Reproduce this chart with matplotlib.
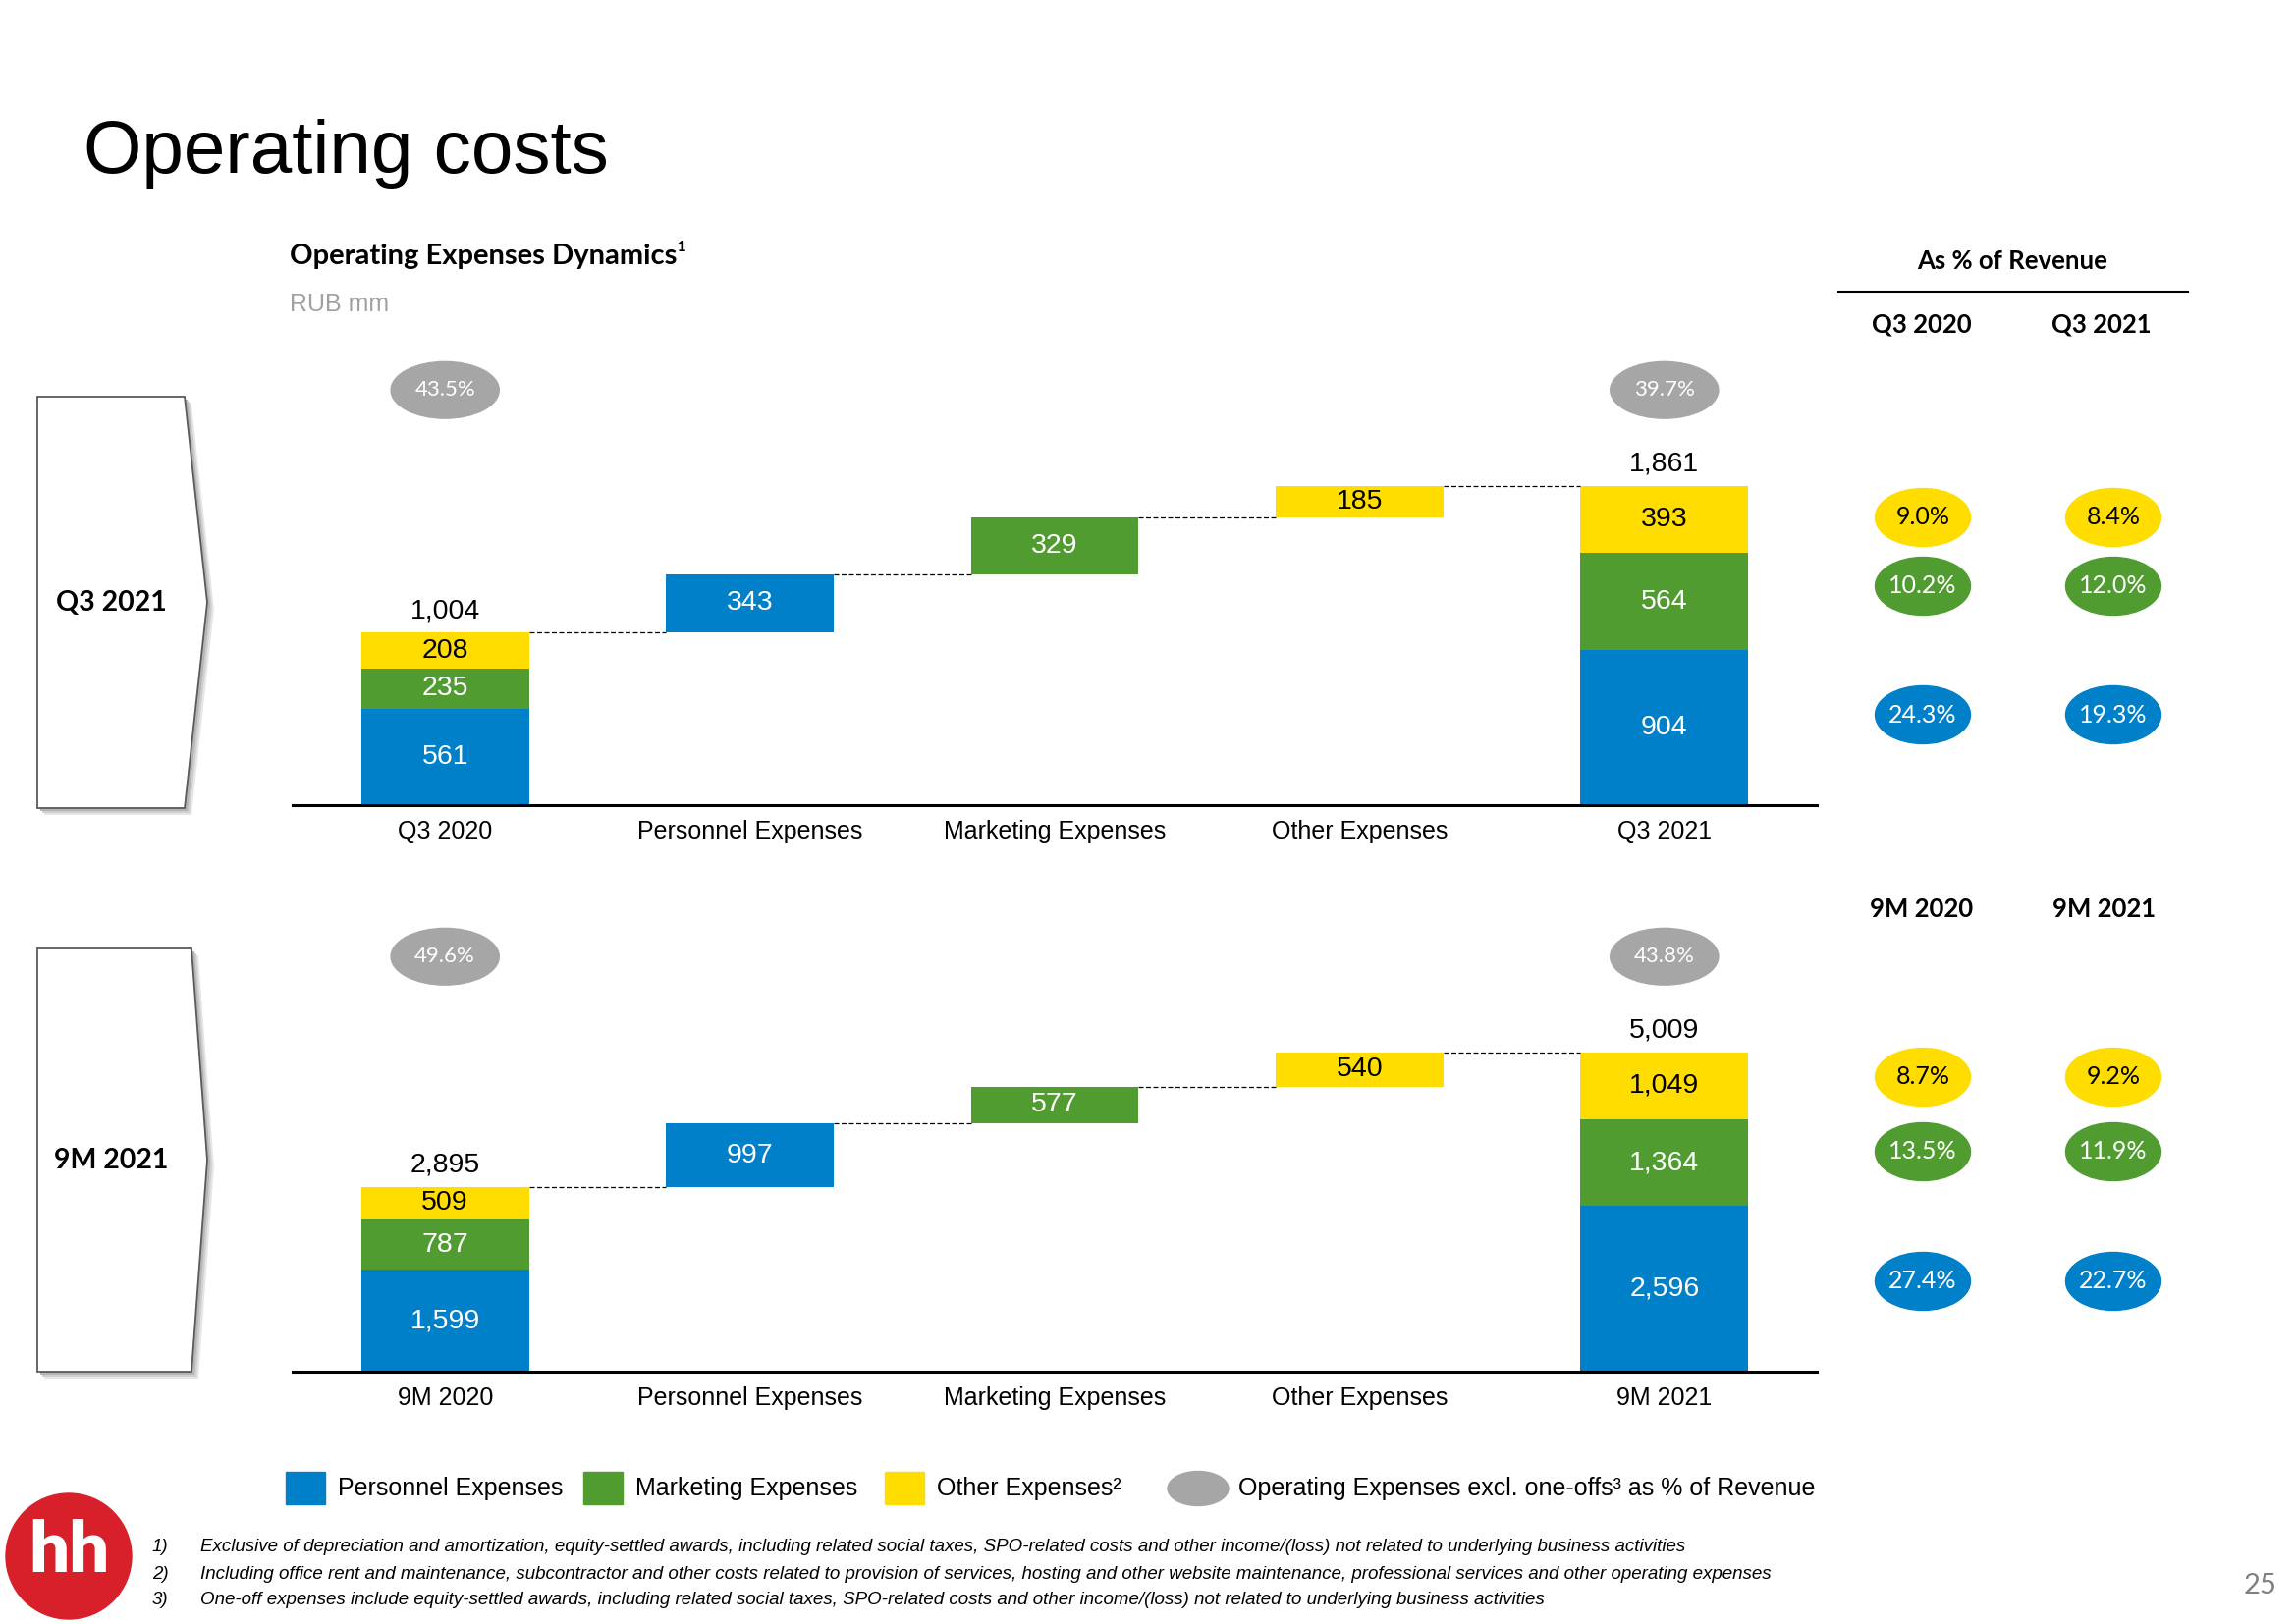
import matplotlib
matplotlib.use('Agg')
import matplotlib.pyplot as plt
from matplotlib.patches import Ellipse, Polygon, Circle, Rectangle
from matplotlib.transforms import blended_transform_factory
from matplotlib import font_manager

## Data
categories_q3 = ['Q3 2020', 'Personnel Expenses', 'Marketing Expenses', 'Other Expenses', 'Q3 2021']
categories_9m = ['9M 2020', 'Personnel Expenses', 'Marketing Expenses', 'Other Expenses', '9M 2021']

# stacks are (personnel, marketing, other), RUB mm
q3_2020 = [561, 235, 208]
q3_change = [343, 329, 185]
q3_2021 = [904, 564, 393]
m9_2020 = [1599, 787, 509]
m9_change = [997, 577, 540]
m9_2021 = [2596, 1364, 1049]

# opex excl. one-offs as % of revenue (start, end)
q3_opex_pct = [43.5, 39.7]
m9_opex_pct = [49.6, 43.8]

# as % of revenue (personnel, marketing, other)
q3_pct_2020 = [24.3, 10.2, 9.0]
q3_pct_2021 = [19.3, 12.0, 8.4]
m9_pct_2020 = [27.4, 13.5, 8.7]
m9_pct_2021 = [22.7, 11.9, 9.2]

series_names = ['Personnel Expenses', 'Marketing Expenses', 'Other Expenses\u00b2']
colors = ['#0080C9', '#519C31', '#FFDD00']
text_colors = ['white', 'white', 'black']
GRAY = '#A6A6A6'

footnotes = [
    "Exclusive of depreciation and amortization, equity-settled awards, including related social taxes, SPO-related costs and other income/(loss) not related to underlying business activities",
    "Including office rent and maintenance, subcontractor and other costs related to provision of services, hosting and other website maintenance, professional services and other operating expenses",
    "One-off expenses include equity-settled awards, including related social taxes, SPO-related costs and other income/(loss) not related to underlying business activities",
]

## Fonts
names = {f.name for f in font_manager.fontManager.ttflist}
NARROW = 'Liberation Sans Narrow' if 'Liberation Sans Narrow' in names else 'Liberation Sans'
HEAD = 'Lato'
NUM_FS = 20.5
LBL_FS = 18

W, H = 2338, 1654
fig = plt.figure(figsize=(W / 100, H / 100), dpi=100)

# full-figure overlay in pixel coordinates for slide decorations
ov = fig.add_axes([0, 0, 1, 1])
ov.set_xlim(0, W)
ov.set_ylim(H, 0)
ov.axis('off')


def draw_panel(ax, cats, start, changes, end, opex_pct):
    w = 0.55
    # starting stacked bar
    bottom = 0
    for k in range(3):
        ax.bar(0, start[k], w, bottom=bottom, color=colors[k])
        ax.text(0, bottom + start[k] / 2, f'{start[k]:,}', ha='center', va='center',
                color=text_colors[k], fontsize=NUM_FS, family=NARROW)
        bottom += start[k]
    ax.annotate(f'{bottom:,}', (0, bottom), xytext=(0, 16), textcoords='offset points',
                ha='center', va='center', fontsize=NUM_FS, family=NARROW)
    level = bottom
    # waterfall steps
    for k in range(3):
        x = k + 1
        ax.plot([x - 1 + w / 2, x - w / 2], [level, level], color='black', lw=0.9, ls=(0, (4, 2)))
        ax.bar(x, changes[k], w, bottom=level, color=colors[k])
        ax.text(x, level + changes[k] / 2, f'{changes[k]:,}', ha='center', va='center',
                color=text_colors[k], fontsize=NUM_FS, family=NARROW)
        level += changes[k]
    ax.plot([3 + w / 2, 4 - w / 2], [level, level], color='black', lw=0.9, ls=(0, (4, 2)))
    # ending stacked bar
    bottom = 0
    for k in range(3):
        ax.bar(4, end[k], w, bottom=bottom, color=colors[k])
        ax.text(4, bottom + end[k] / 2, f'{end[k]:,}', ha='center', va='center',
                color=text_colors[k], fontsize=NUM_FS, family=NARROW)
        bottom += end[k]
    ax.annotate(f'{bottom:,}', (4, bottom), xytext=(0, 16), textcoords='offset points',
                ha='center', va='center', fontsize=NUM_FS, family=NARROW)

    ax.set_xlim(-0.5, 4.5)
    ax.set_ylim(0, bottom * 1.42)
    ax.set_facecolor('none')
    for s in ['top', 'right', 'left']:
        ax.spines[s].set_visible(False)
    ax.spines['bottom'].set_linewidth(2.2)
    ax.set_yticks([])
    ax.set_xticks(range(5))
    ax.set_xticklabels(cats, fontsize=LBL_FS, family=NARROW)
    ax.tick_params(axis='x', length=0, pad=11)

    # grey opex % bubbles above start and end bars
    trans = blended_transform_factory(ax.transData, ax.transAxes)
    for x, p in zip([0, 4], opex_pct):
        ax.add_patch(Ellipse((x, 0.915), 0.355, 0.125, transform=trans, color=GRAY, clip_on=False))
        ax.text(x, 0.915, f'{p:.1f}%', transform=trans, ha='center', va='center',
                color='white', fontsize=16, family=HEAD)


ax1 = fig.add_axes([298 / W, 1 - 820 / H, 1552 / W, 462 / H])
draw_panel(ax1, categories_q3, q3_2020, q3_change, q3_2021, q3_opex_pct)
ax2 = fig.add_axes([298 / W, 1 - 1397 / H, 1552 / W, 462 / H])
draw_panel(ax2, categories_9m, m9_2020, m9_change, m9_2021, m9_opex_pct)

## Title and subtitles
ov.text(85, 176, 'Operating costs', fontsize=55, family=NARROW, va='baseline')
ov.text(295, 269, 'Operating Expenses Dynamics\u00b9', fontsize=21, family=HEAD,
        fontweight='bold', va='baseline')
ov.text(295, 317, 'RUB mm', fontsize=18, family=NARROW, color='#A0A0A0', va='baseline')

## Period arrows on the left
for top, bot, tip, rt, label in [(404, 823, 211, 188, 'Q3 2021'), (966, 1397, 211, 195, '9M 2021')]:
    mid = (top + bot) / 2
    pts = [(38, top), (rt, top), (tip, mid), (rt, bot), (38, bot)]
    for off, c in [(7, '#e6e6e6'), (5, '#cfcfcf'), (3, '#b5b5b5')]:
        ov.add_patch(Polygon([(x + off, y + off) for x, y in pts], closed=True, color=c, lw=0))
    ov.add_patch(Polygon(pts, closed=True, facecolor='white', edgecolor='#5a5a5a', lw=1.3))
    ov.text(113, mid, label, ha='center', va='center', fontsize=20.5, family=HEAD, fontweight='bold')

## As % of revenue panel
ov.text(2049, 266, 'As % of Revenue', ha='center', va='center', fontsize=18.5, family=HEAD, fontweight='bold')
ov.plot([1872, 2228], [297, 297], color='black', lw=1.5)
blocks = [
    (['Q3 2020', 'Q3 2021'], [1957, 2140], 331, [q3_pct_2020, q3_pct_2021], [728, 597, 527]),
    (['9M 2020', '9M 2021'], [1957, 2143], 926, [m9_pct_2020, m9_pct_2021], [1305, 1173, 1097]),
]
col_x = [1958, 2152]
for heads, head_x, head_y, cols, ys in blocks:
    for hx, cx, head, vals in zip(head_x, col_x, heads, cols):
        ov.text(hx, head_y, head, ha='center', va='center', fontsize=18.5, family=HEAD, fontweight='bold')
        for k in range(3):
            ov.add_patch(Ellipse((cx, ys[k]), 97, 59, color=colors[k]))
            ov.text(cx, ys[k], f'{vals[k]:.1f}%', ha='center', va='center',
                    color=text_colors[k], fontsize=18, family=HEAD)

## Legend
leg_x = [291, 594, 901]
for k in range(3):
    ov.add_patch(Rectangle((leg_x[k], 1499), 40, 33, color=colors[k]))
    ov.text(leg_x[k] + 53, 1516, series_names[k], va='center', fontsize=LBL_FS, family=NARROW)
ov.add_patch(Ellipse((1220, 1516), 62, 35, color=GRAY))
ov.text(1261, 1516, 'Operating Expenses excl. one-offs\u00b3 as % of Revenue', va='center',
        fontsize=LBL_FS, family=NARROW)

## Footnotes
for i, (y, note) in enumerate(zip([1576, 1603, 1630], footnotes)):
    ov.text(155, y, f'{i + 1})', va='center', fontsize=13.5, family=NARROW, style='italic')
    ov.text(204, y, note, va='center', fontsize=13.5, family=NARROW, style='italic')

## Logo and page number
ov.add_patch(Circle((70, 1585), 64, color='#D7202A'))
ov.text(70, 1580, 'hh', ha='center', va='center', color='white', fontsize=52,
        family=HEAD, fontweight='heavy')
ov.text(2302, 1615, '25', ha='center', va='center', color='#808080', fontsize=21, family=HEAD)

fig.savefig('out.png', dpi=100)
